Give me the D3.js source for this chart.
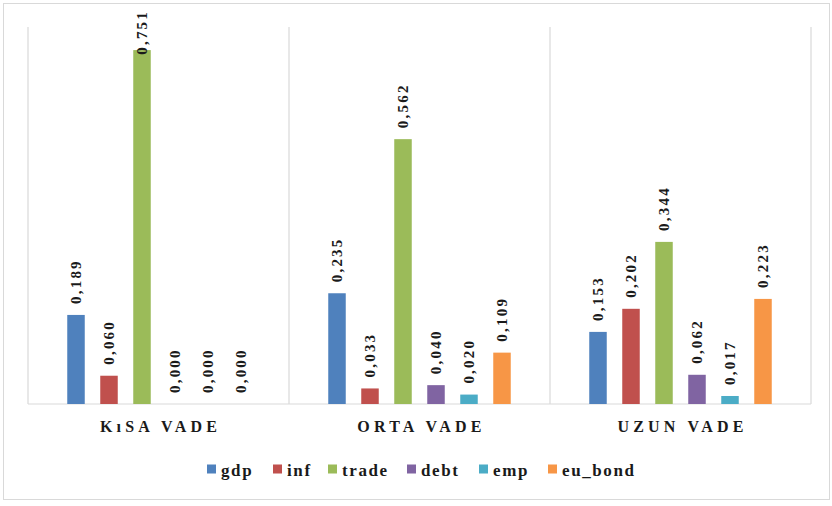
<!DOCTYPE html>
<html><head><meta charset="utf-8">
<script src="https://cdn.jsdelivr.net/npm/d3@7/dist/d3.min.js"></script>
<style>body{margin:0;background:#fff}</style>
</head><body>
<svg id="c" width="832" height="506"></svg>
<script>
const categories = ["K\u0131SA VADE", "ORTA VADE", "UZUN VADE"];
const seriesNames = ["gdp", "inf", "trade", "debt", "emp", "eu_bond"];
const seriesColors = ["#4F81BD", "#C0504D", "#9BBB59", "#8064A2", "#4BACC6", "#F79646"];
const gdp = [0.189, 0.235, 0.153];
const inf = [0.060, 0.033, 0.202];
const trade = [0.751, 0.562, 0.344];
const debt = [0.000, 0.040, 0.062];
const emp = [0.000, 0.020, 0.017];
const eu_bond = [0.000, 0.109, 0.223];
const yTicks = [0, 0.8];

const seriesValues = [gdp, inf, trade, debt, emp, eu_bond];
const svg = d3.select("#c");
const FONT = '"Liberation Serif", "Times New Roman", serif';
function styleText(sel, size, spacing) {
  return sel.style("font-family", FONT).style("font-weight", "bold")
    .style("font-size", size + "px").style("letter-spacing", spacing + "px")
    .style("fill", "#1a1a1a");
}

svg.append("rect").attr("x", 3.5).attr("y", 3.5).attr("width", 826).attr("height", 496)
  .attr("fill", "#fff").attr("stroke", "#d9d9d9");

const x0 = d3.scaleBand().domain(categories).range([28, 811]).paddingInner(0).paddingOuter(0);
const y = d3.scaleLinear().domain([yTicks[0], yTicks[1]]).range([404, 27]);
const bw = 17.5, step = 33;
const x1 = d3.scalePoint().domain(seriesNames).range([0, step * 5]);

// vertical separators
const seps = [x0.range()[0], ...categories.map(c => x0(c) + x0.bandwidth())];
svg.selectAll("line.sep").data(seps).enter().append("line")
  .attr("x1", d => d).attr("x2", d => d).attr("y1", y(0.8)).attr("y2", y(0))
  .attr("stroke", "#d9d9d9").attr("stroke-width", 1.2);
svg.append("line").attr("x1", 28).attr("x2", 811).attr("y1", y(0)).attr("y2", y(0))
  .attr("stroke", "#d9d9d9").attr("stroke-width", 1.2);

categories.forEach((cat, ci) => {
  const gx = x0(cat) + (x0.bandwidth() - (step * 5 + bw)) / 2;
  const g = svg.append("g");
  seriesNames.forEach((s, si) => {
    const v = seriesValues[si][ci];
    const bx = gx + x1(s);
    if (v > 0) {
      g.append("rect").attr("x", bx).attr("y", y(v)).attr("width", bw)
        .attr("height", y(0) - y(v)).attr("fill", seriesColors[si]);
    }
    const t = styleText(g.append("text"), 15, 2.2)
      .attr("text-anchor", "start")
      .text(v.toFixed(3).replace(".", ","));
    const len = t.node().getComputedTextLength();
    let base = y(v) - 11;
    if (base - len < 10) base = 10 + len;
    t.attr("transform", `translate(${bx + bw / 2 + 5},${base}) rotate(-90)`);
  });
  styleText(svg.append("text"), 16, 4.2)
    .attr("x", x0(cat) + x0.bandwidth() / 2 + 2).attr("y", 432)
    .attr("text-anchor", "middle").text(cat);
});

// legend
const legX = [207, 273, 328, 407, 479, 548];
const leg = svg.selectAll("g.leg").data(seriesNames).enter().append("g")
  .attr("transform", (d, i) => `translate(${legX[i]},469)`);
leg.append("rect").attr("x", 0).attr("y", -4.5).attr("width", 9).attr("height", 9)
  .attr("fill", (d, i) => seriesColors[i]);
styleText(leg.append("text"), 17, 1.6).attr("x", 14).attr("y", 7).text(d => d);
</script>
</body></html>
